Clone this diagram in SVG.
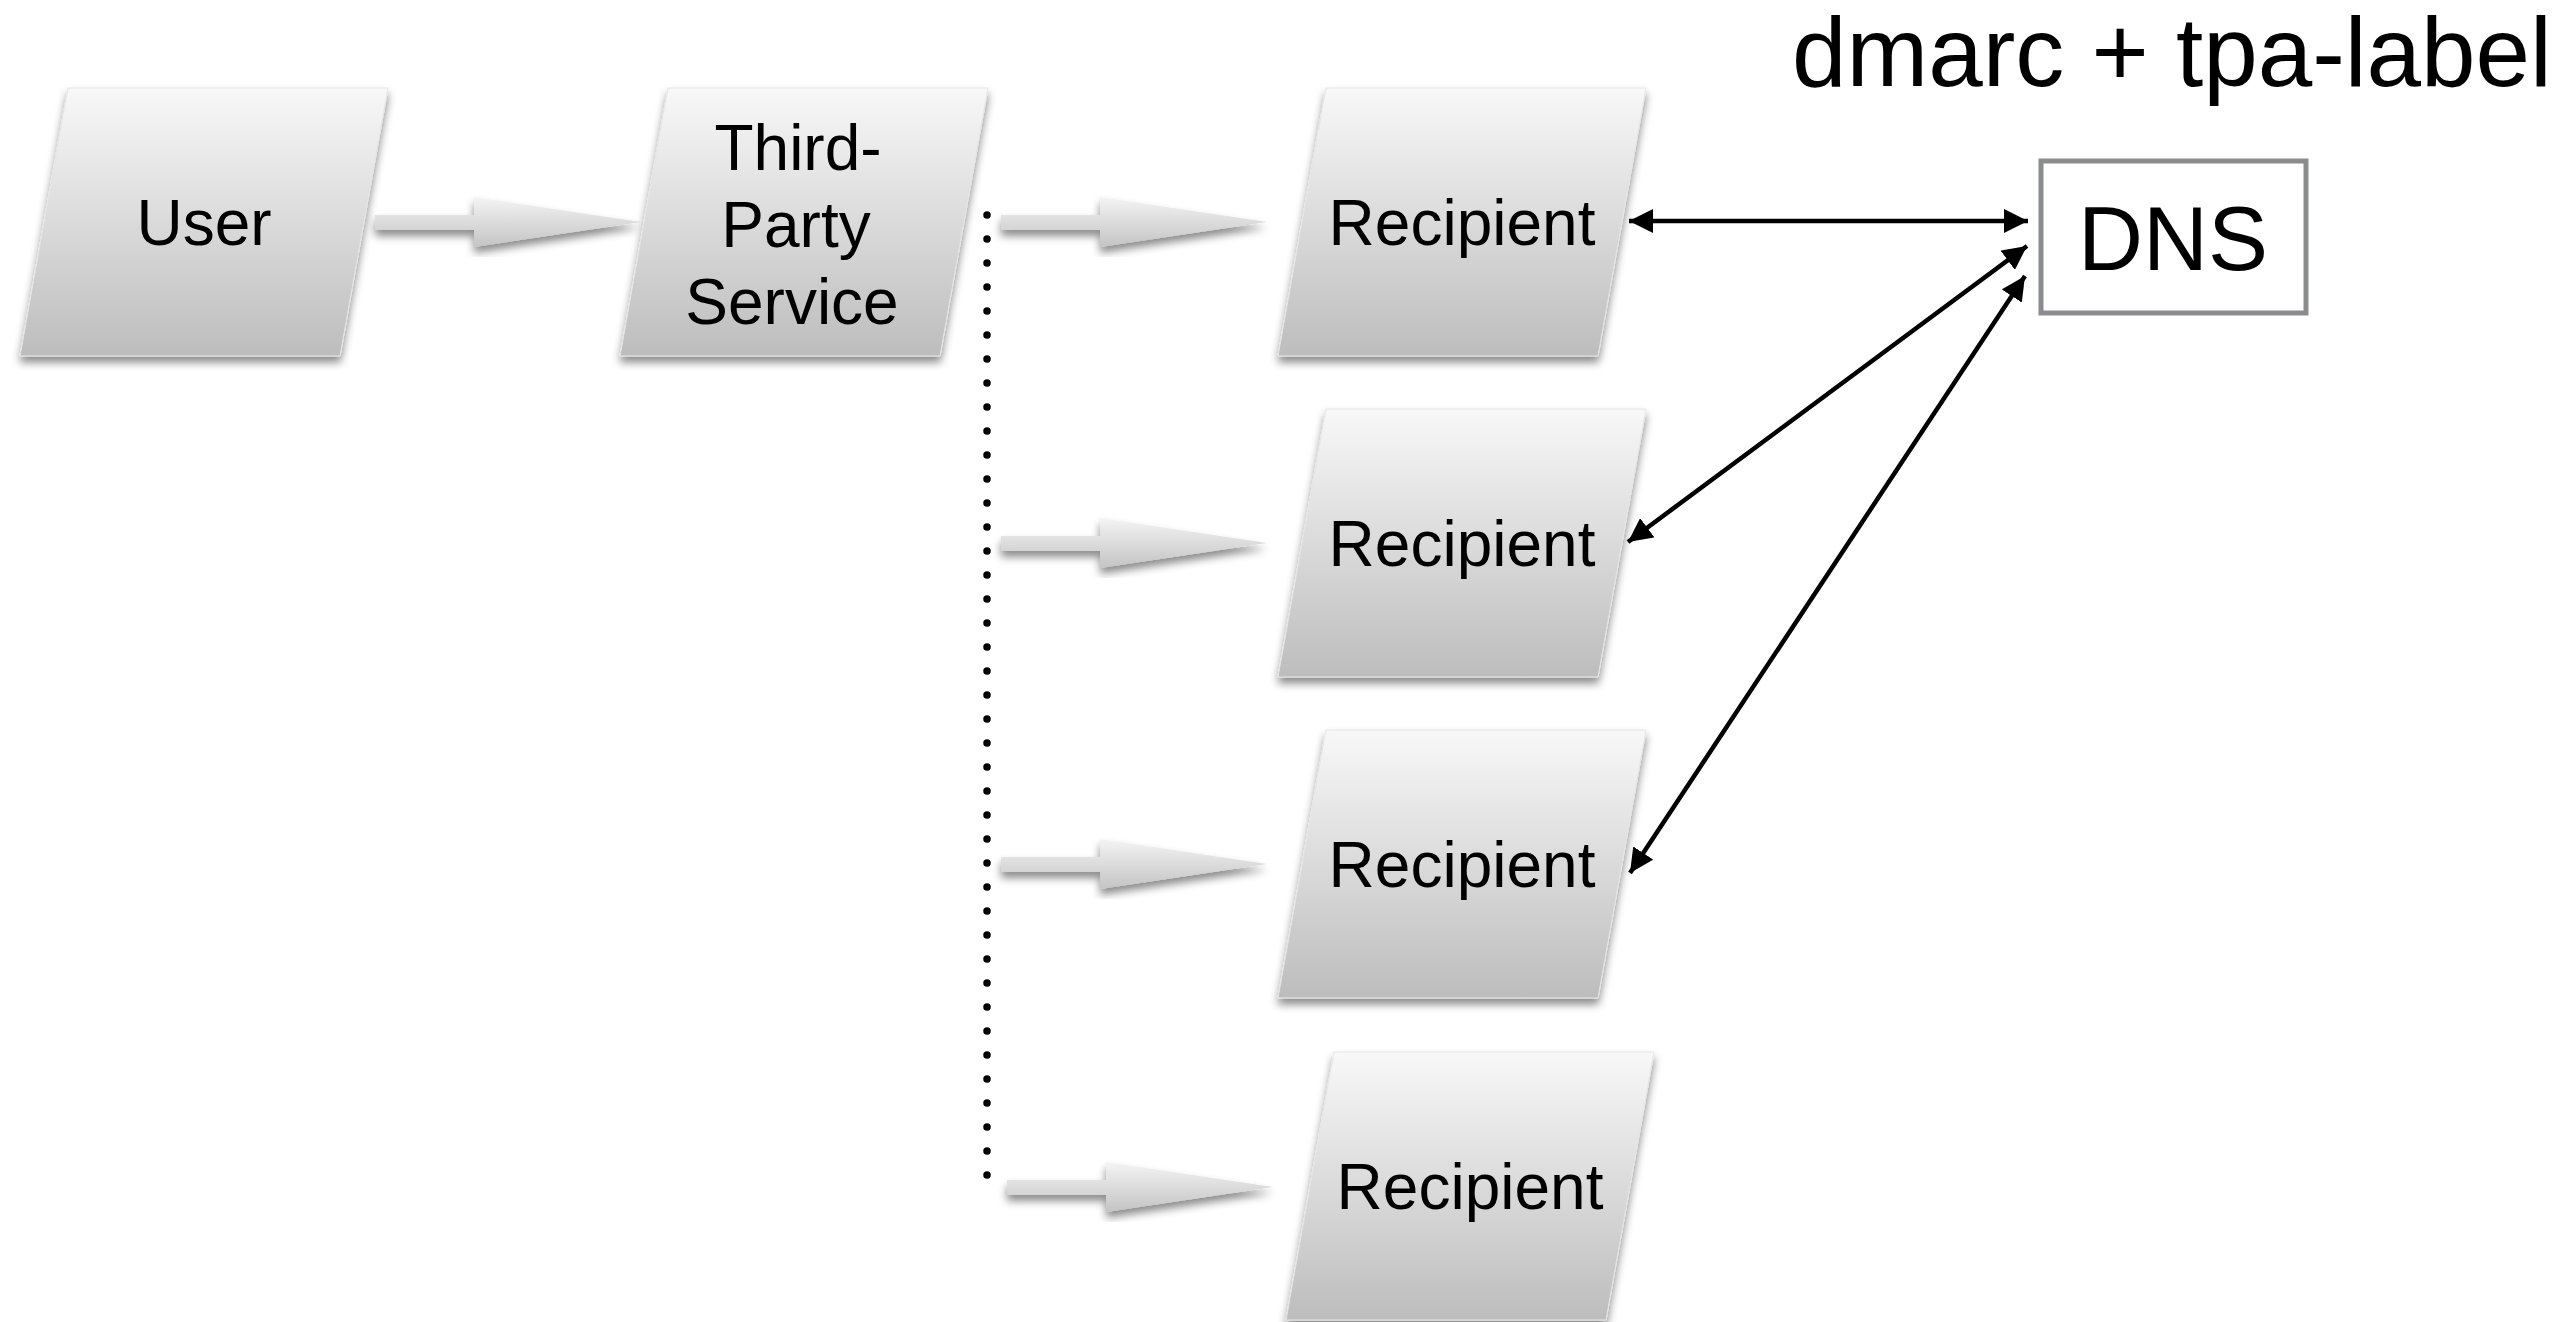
<svg xmlns="http://www.w3.org/2000/svg" width="2566" height="1322" viewBox="0 0 2566 1322">
<defs>
<linearGradient id="nodeGrad" x1="0" y1="0" x2="0" y2="1">
<stop offset="0" stop-color="#f8f8f8"/>
<stop offset="1" stop-color="#bdbdbd"/>
</linearGradient>
<linearGradient id="arrowGrad" x1="0" y1="0" x2="0" y2="1">
<stop offset="0" stop-color="#f4f4f4"/>
<stop offset="1" stop-color="#c4c4c4"/>
</linearGradient>
<filter id="shadow" x="-10%" y="-10%" width="120%" height="130%">
<feDropShadow dx="0" dy="6" stdDeviation="4" flood-color="#000" flood-opacity="0.45"/>
</filter>
<marker id="head" viewBox="0 0 10 10" refX="10" refY="5" markerUnits="userSpaceOnUse" markerWidth="24" markerHeight="24" orient="auto-start-reverse">
<path d="M0,0 L10,5 L0,10 z" fill="#000"/>
</marker>
</defs>
<style>
.node{fill:url(#nodeGrad);stroke:#e6e6e6;stroke-width:1;filter:url(#shadow)}
.label{font-family:"Liberation Sans",Arial,sans-serif;font-size:64px;fill:#000;text-anchor:middle}
.garrow{fill:url(#arrowGrad);filter:url(#shadow)}
.link{stroke:#000;stroke-width:4.5;fill:none;marker-start:url(#head);marker-end:url(#head)}
.dots{stroke:#000;stroke-width:7.5;stroke-linecap:round;stroke-dasharray:0 24;fill:none}
</style>
<rect width="2566" height="1322" fill="#fff"/>

<g id="connectors">
<line class="dots" x1="987" y1="215" x2="987" y2="1177"/>
<path class="garrow" d="M375,215 L474,215 L474,197 L641,222 L474,247 L474,230 L375,230 Z"/>
<path class="garrow" d="M1001,215 L1100,215 L1100,197 L1267,222 L1100,247 L1100,230 L1001,230 Z"/>
<path class="garrow" d="M1001,536 L1100,536 L1100,518 L1267,543 L1100,568 L1100,551 L1001,551 Z"/>
<path class="garrow" d="M1001,857 L1100,857 L1100,839 L1267,864 L1100,889 L1100,872 L1001,872 Z"/>
<path class="garrow" d="M1007,1180 L1106,1180 L1106,1162 L1273,1187 L1106,1212 L1106,1195 L1007,1195 Z"/>
<line class="link" x1="1629" y1="221" x2="2028" y2="221"/>
<line class="link" x1="1628" y1="542" x2="2027" y2="246"/>
<line class="link" x1="1630" y1="873" x2="2025" y2="276"/>
</g>

<g id="user">
<polygon class="node" points="68,88 388,88 340,356 20,356"/>
<text class="label" x="204" y="245">User</text>
</g>

<g id="third-party-service">
<polygon class="node" points="668,88 988,88 940,356 620,356"/>
<text class="label" x="798" y="170">Third-</text>
<text class="label" x="796" y="247">Party</text>
<text class="label" x="792" y="324">Service</text>
</g>

<g id="recipient1">
<polygon class="node" points="1326,88 1646,88 1598,356 1278,356"/>
<text class="label" x="1462" y="245">Recipient</text>
</g>

<g id="recipient2">
<polygon class="node" points="1326,409 1646,409 1598,677 1278,677"/>
<text class="label" x="1462" y="566">Recipient</text>
</g>

<g id="recipient3">
<polygon class="node" points="1326,730 1646,730 1598,998 1278,998"/>
<text class="label" x="1462" y="887">Recipient</text>
</g>

<g id="recipient4">
<polygon class="node" points="1334,1052 1654,1052 1606,1320 1286,1320"/>
<text class="label" x="1470" y="1209">Recipient</text>
</g>

<g id="dns">
<rect x="2041" y="161" width="265" height="152" fill="#fff" stroke="#8a8c90" stroke-width="5"/>
<text class="label" x="2173" y="270" style="font-size:90px">DNS</text>
</g>

<g id="title">
<text x="1792" y="86" style="font-family:'Liberation Sans',Arial,sans-serif;font-size:98px;fill:#000">dmarc + tpa-label</text>
</g>
</svg>
